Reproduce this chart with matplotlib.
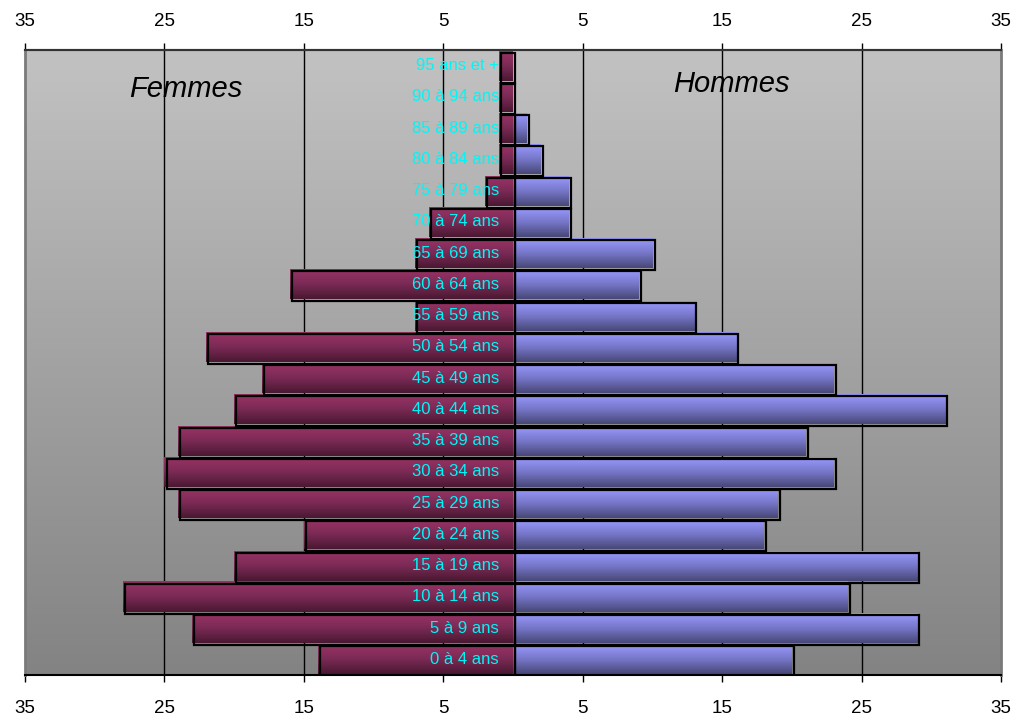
import numpy as np
import matplotlib.pyplot as plt
import matplotlib.transforms as mtransforms
from matplotlib.colors import LinearSegmentedColormap

plt.rcParams['font.family'] = ['Liberation Sans', 'DejaVu Sans']

# --- data: age groups, bottom to top ---
ages = ["0 à 4 ans", "5 à 9 ans", "10 à 14 ans", "15 à 19 ans", "20 à 24 ans",
        "25 à 29 ans", "30 à 34 ans", "35 à 39 ans", "40 à 44 ans", "45 à 49 ans",
        "50 à 54 ans", "55 à 59 ans", "60 à 64 ans", "65 à 69 ans", "70 à 74 ans",
        "75 à 79 ans", "80 à 84 ans", "85 à 89 ans", "90 à 94 ans", "95 ans et +"]
femmes = [14, 23, 28, 20, 15, 24, 25, 24, 20, 18, 22, 7, 16, 7, 6, 2, 1, 1, 1, 1]
hommes = [20, 29, 24, 29, 18, 19, 23, 21, 31, 23, 16, 13, 9, 10, 4, 4, 2, 1, 0, 0]
ticks = [-35, -25, -15, -5, 5, 15, 25, 35]
tick_labels = [str(abs(t)) for t in ticks]

fig = plt.figure(figsize=(10.12, 7.18), dpi=100)
ax = fig.add_axes([25 / 1012, 1 - 675 / 718, 976 / 1012, 625 / 718])

# grey background, light at the top, dark at the bottom
bg = LinearSegmentedColormap.from_list('bg', ['#838383', '#c2c2c2'])
ax.imshow(np.linspace(0, 1, 256).reshape(-1, 1), cmap=bg, origin='lower',
          extent=(0, 1, 0, 1), transform=ax.transAxes, aspect='auto', zorder=0)

for x in [-25, -15, -5, 5, 15, 25]:
    ax.axvline(x, color='black', lw=1, zorder=1)

y = np.arange(len(ages))
bars_f = ax.barh(y, -np.array(femmes), height=0.96)
bars_h = ax.barh(y, hommes, height=0.96)

cm_f = LinearSegmentedColormap.from_list('f', ['#4a1832', '#7a2a55', '#9a3366'])
cm_h = LinearSegmentedColormap.from_list('h', ['#484878', '#7676c8', '#9999ff'])
grad = np.linspace(0, 1, 64).reshape(-1, 1)
shadow = ax.transData + mtransforms.ScaledTranslation(1.5 / 72, -1.5 / 72, fig.dpi_scale_trans)

for bars, cm in [(bars_f, cm_f), (bars_h, cm_h)]:
    for p in bars:
        if p.get_width() == 0:
            p.set_visible(False)
            continue
        x0, y0 = p.get_x(), p.get_y()
        w, h = p.get_width(), p.get_height()
        ax.imshow(grad, cmap=cm, origin='lower', aspect='auto',
                  extent=(x0, x0 + w, y0, y0 + h), zorder=2)
        p.set_facecolor('none')
        p.set_edgecolor('black')
        p.set_linewidth(1.6)
        p.set_transform(shadow)
        p.set_zorder(3)

for i, lab in enumerate(ages):
    ax.text(-1.0, i, lab, ha='right', va='center', color='#00f6f6',
            fontsize=12, zorder=4)

ax.text(-23.5, 18.25, 'Femmes', style='italic', fontsize=21,
        ha='center', va='center', zorder=4)
ax.text(15.7, 18.4, 'Hommes', style='italic', fontsize=21,
        ha='center', va='center', zorder=4)

ax.set_xlim(-35, 35)
ax.set_ylim(-0.5, len(ages) - 0.5)
ax.set_xticks(ticks)
ax.set_xticklabels(tick_labels)
ax.set_yticks([])
ax.tick_params(axis='x', direction='out', length=5, width=1,
               labelsize=13.5, pad=13)

# same scale repeated along the top
top = ax.secondary_xaxis('top')
top.set_xticks(ticks)
top.set_xticklabels(tick_labels)
top.tick_params(direction='out', length=5, width=1, labelsize=13.5, pad=9.5)
top.spines['top'].set_color('#333333')
top.spines['top'].set_linewidth(1.5)

for side in ['left', 'right']:
    ax.spines[side].set_color('#7a7a7a')
    ax.spines[side].set_linewidth(2)
ax.spines['top'].set_color('#333333')
ax.spines['top'].set_linewidth(1.5)
ax.spines['bottom'].set_color('black')
ax.spines['bottom'].set_linewidth(1.5)

fig.savefig('out.png', dpi=100)
